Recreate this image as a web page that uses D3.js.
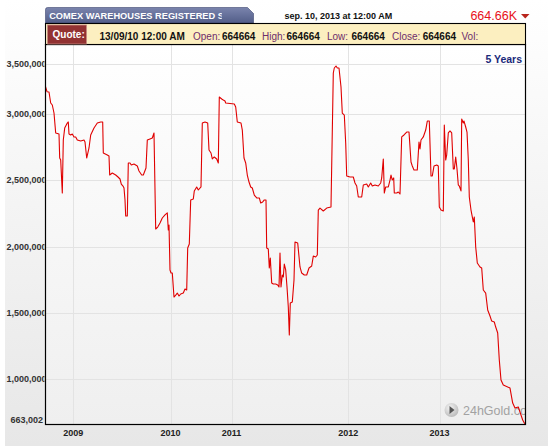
<!DOCTYPE html>
<html>
<head>
<meta charset="utf-8">
<script src="https://cdn.jsdelivr.net/npm/d3@7"></script>
<style>
  html, body { margin: 0; padding: 0; background: #ffffff; }
  svg { display: block; }
  text { font-family: "Liberation Sans", Arial, sans-serif; }
</style>
</head>
<body>
<svg id="chart" width="551" height="446"></svg>
<script>
// ---------------- data ----------------
// observation index along the series (the source chart is index based)
const obs = [0,2,4,5.7,7.3,9,10.7,14,14.7,15.7,17.3,18.3,19.7,22.3,23.3,24,25.7,27.3,29,30.7,32.3,35.7,39,40,41.7,44,45.7,49,52.3,55.7,57.7,58.3,62.3,64,64.7,67.3,70.7,73,75,76.3,78,79,80,80.7,82.3,83.3,85,86.3,89,92.3,
94,96.7,98.3,101,102.3,105,107.3,109,110.7,112.7,115,117.3,120,122.3,123.3,124,125,126,127.3,129,130.7,132.3,134,135.7,138.3,140,141.7,142.7,144.3,145.7,148.3,149.3,151.7,153.3,156,157.3,160,162.7,164,166,167.3,169.3,171.7,173.3,174.3,176.7,178.3,180,180.7,
189.3,190.7,192.3,196,197.3,199,200.7,202.3,204,205.7,207.3,209.3,211.7,214.3,215.7,217.7,219.3,221,221.7,223.3,224.3,225.3,226.7,228.3,230.7,232.7,234,235,236,237.3,238.3,239.3,240.7,242,243.3,244.3,245.3,247.3,249,250,252.7,255,256.7,259.3,261.7,264,266.7,268.3,270.7,272.3,273.3,275,278.3,281.7,286,
288.3,289.3,291,292.3,294,296,297.3,299.3,300.7,301.7,305,308.3,310,311.7,313.3,316.7,318.3,321.7,323.3,325.7,327.3,330,333.3,335.7,336.7,338.3,339.3,340.7,343.3,345,346,347.3,348.7,349.3,351.7,353.3,355,356.7,359,361.7,364,
366,367.3,369,372.3,374,375,376,378.3,380.7,382.3,384.3,386,387.3,389,391.7,393.3,394.3,396,398.3,399.3,400.7,401.7,403.3,405,406.7,408.3,409.3,410.7,412,413.3,414.3,416,416.7,418.3,419,420.7,422,423.3,424.3,426,427.3,428.3,429.3,430.7,432.3,435,436.7,438.3,440.7,442.7,445,446.7,449.3,450.7,452.7,454.3,456,458.3,465,467.7,470,473.3,475,477.7,479.3,480];

// registered stocks, thousands of ounces
const stockK = [3290,3223,3220,3110,3090,3010,2857,2849,2668,2653,2404,2804,2894,2932,2940,2849,2842,2849,2827,2827,2804,2796,2804,2789,2668,2744,2842,2894,2932,2940,2940,2706,2691,2683,2540,2555,2540,2525,2510,2472,2457,2442,2352,2231,2231,2631,2631,2616,2623,2608,
2570,2540,2540,2593,2804,2812,2819,2857,2133,2148,2178,2216,2239,2254,2125,2163,1824,1801,1801,1620,1635,1650,1628,1643,1650,1681,1673,1990,2020,2352,2359,2420,2450,2427,2450,2932,2940,2932,2729,2706,2661,2676,2661,2631,3170,3150,3140,3130,3110,
3100,3070,2940,2932,2879,2668,2631,2540,2487,2450,2442,2389,2367,2367,2329,2337,2352,2352,1990,1982,1839,1914,1726,1718,1718,1711,1696,1952,1696,1786,1771,1869,1824,1696,1545,1334,1575,1583,1749,2035,2027,1847,1801,1786,1786,1839,1854,1929,1922,1937,2276,2291,2269,2291,2299,
3410,3460,3480,3460,3460,3270,3008,2992,2781,2533,2525,2525,2480,2457,2374,2374,2465,2472,2450,2480,2457,2465,2457,2480,2518,2661,2404,2450,2450,2502,2540,2502,2518,2404,2404,2412,2397,2827,2842,2864,2864,
2638,2608,2578,2578,2789,2736,2804,2827,2879,2947,2947,2533,2533,2608,2616,2608,2299,2276,2269,2917,2653,2691,2857,2872,2857,2585,2585,2676,2585,2465,2457,2420,2962,2932,2947,2902,2864,2653,2374,2276,2224,2186,2224,1997,1877,1847,1839,1673,1650,1522,1477,1439,1432,1394,1349,1145,995,957,934,821,783,791,753,693,671,664.664];

// y ticks (thousands) and their labels
const yTickValues = [663.002, 1000, 1500, 2000, 2500, 3000, 3500];
const yTickLabels = ["663,002", "1,000,000", "1,500,000", "2,000,000", "2,500,000", "3,000,000", "3,500,000"];
// x ticks: observation index where each year begins
const xTickValues = [28.3, 125.6, 186.5, 303.3, 394.5];
const xTickLabels = ["2009", "2010", "2011", "2012", "2013"];

// header texts
const titleText = "COMEX WAREHOUSES REGISTERED S";
const dateText = "sep. 10, 2013 at 12:00 AM";
const lastText = "664.66K";
const quoteDate = "13/09/10 12:00 AM";
const quoteFields = [["Open:", "664664"], ["High:", "664664"], ["Low:", "664664"], ["Close:", "664664"], ["Vol:", ""]];
const periodText = "5 Years";

// ---------------- drawing ----------------
const svg = d3.select("#chart");
const L = 45, R = 525, T = 44, B = 424;

const x = d3.scaleLinear().domain([0, 480]).range([L, R]);
const y = d3.scaleLinear().domain([663.002, 3000, 3500]).range([B, 114, 64]);

const defs = svg.append("defs");
const gOuter = defs.append("linearGradient").attr("id", "gOuter").attr("x1", 0).attr("y1", 0).attr("x2", 0).attr("y2", 1);
gOuter.append("stop").attr("offset", "0%").attr("stop-color", "#ffffff");
gOuter.append("stop").attr("offset", "100%").attr("stop-color", "#e7e7e7");
const gPlot = defs.append("linearGradient").attr("id", "gPlot").attr("x1", 0).attr("y1", 0).attr("x2", 0).attr("y2", 1);
gPlot.append("stop").attr("offset", "0%").attr("stop-color", "#ffffff");
gPlot.append("stop").attr("offset", "100%").attr("stop-color", "#efefef");
const gTab = defs.append("linearGradient").attr("id", "gTab").attr("x1", 0).attr("y1", 0).attr("x2", 0).attr("y2", 1);
gTab.append("stop").attr("offset", "0%").attr("stop-color", "#7a84ad");
gTab.append("stop").attr("offset", "100%").attr("stop-color", "#525d88");
const gLogo = defs.append("radialGradient").attr("id", "gLogo").attr("cx", "40%").attr("cy", "35%").attr("r", "70%");
gLogo.append("stop").attr("offset", "0%").attr("stop-color", "#f4f4f4");
gLogo.append("stop").attr("offset", "100%").attr("stop-color", "#b8b8b8");
defs.append("clipPath").attr("id", "clipPlot").append("rect").attr("x", L).attr("y", T).attr("width", R - L).attr("height", B - T);
defs.append("clipPath").attr("id", "clipY").append("rect").attr("x", 0).attr("y", 40).attr("width", L - 0.5).attr("height", 400);
defs.append("clipPath").attr("id", "clipTitle").append("rect").attr("x", 46).attr("y", 6).attr("width", 175.8).attr("height", 18);

// outer background
svg.append("rect").attr("x", 5).attr("y", 0).attr("width", 543).attr("height", 446).attr("fill", "url(#gOuter)");

// plot background
svg.append("rect").attr("x", L).attr("y", T).attr("width", R - L).attr("height", B - T).attr("fill", "url(#gPlot)");

// grid
svg.append("g").selectAll("line").data(yTickValues.slice(1)).join("line")
  .attr("x1", L).attr("x2", R).attr("y1", d => Math.round(y(d)) + 0.5).attr("y2", d => Math.round(y(d)) + 0.5)
  .attr("stroke", "#e3e3e3").attr("stroke-width", 1);
svg.append("g").selectAll("line").data(xTickValues).join("line")
  .attr("x1", d => Math.round(x(d)) + 0.5).attr("x2", d => Math.round(x(d)) + 0.5).attr("y1", T).attr("y2", B)
  .attr("stroke", "#e3e3e3").attr("stroke-width", 1);

// watermark
const logo = svg.append("g").attr("clip-path", "url(#clipPlot)");
logo.append("circle").attr("cx", 451.5).attr("cy", 410).attr("r", 7).attr("fill", "url(#gLogo)");
logo.append("path").attr("d", "M449.5,406 L454.5,410 L449.5,414 Z").attr("fill", "#555");
logo.append("text").attr("x", 463).attr("y", 414.5).attr("font-size", 12.5).attr("fill", "#a2a2a2").text("24hGold.com");

// line
const pts = obs.map((o, i) => [o, stockK[i]]);
svg.append("path").datum(pts)
  .attr("clip-path", "url(#clipPlot)")
  .attr("fill", "none").attr("stroke", "#e00000").attr("stroke-width", 1.1).attr("stroke-linejoin", "round")
  .attr("d", d3.line().x(d => x(d[0])).y(d => y(d[1])));

// plot frame
svg.append("rect").attr("x", L + 0.5).attr("y", T + 0.5).attr("width", R - L).attr("height", B - T)
  .attr("fill", "none").attr("stroke", "#000").attr("stroke-width", 1.2);

// y labels
const yl = svg.append("g").attr("clip-path", "url(#clipY)");
yl.selectAll("text").data(yTickValues).join("text")
  .attr("x", (d, i) => i === 0 ? 43 : 46.5)
  .attr("y", (d, i) => i === 0 ? 420 : y(d))
  .attr("dy", "0.35em").attr("text-anchor", "end")
  .attr("font-size", 9).attr("font-weight", "bold").attr("fill", "#333")
  .text((d, i) => yTickLabels[i]);

// x labels
svg.append("g").selectAll("text").data(xTickValues).join("text")
  .attr("x", d => x(d)).attr("y", 435.5).attr("text-anchor", "middle")
  .attr("font-size", 9).attr("font-weight", "bold").attr("fill", "#222")
  .text((d, i) => xTickLabels[i]);

// "5 Years"
svg.append("text").attr("x", 522).attr("y", 62.5).attr("text-anchor", "end")
  .attr("font-size", 10.5).attr("font-weight", "bold").attr("fill", "#1b2a7a").text(periodText);

// title tab
svg.append("path").attr("d", "M45.5,23 L45.5,9.5 Q45.5,7.5 47.5,7.5 L247.5,7.5 L253.5,13.5 L253.5,23 Z")
  .attr("fill", "url(#gTab)").attr("stroke", "#3e4770").attr("stroke-width", 0.6);
svg.append("text").attr("clip-path", "url(#clipTitle)").attr("x", 49.2).attr("y", 18.8)
  .attr("font-size", 9.25).attr("font-weight", "bold").attr("fill", "#ffffff").text(titleText);

// date and last value
svg.append("text").attr("x", 284.5).attr("y", 18.7).attr("font-size", 9).attr("font-weight", "bold").attr("fill", "#111").text(dateText);
svg.append("text").attr("x", 517).attr("y", 20).attr("text-anchor", "end").attr("font-size", 12.5).attr("fill", "#e8101a").text(lastText);
svg.append("path").attr("d", "M521,14 L529.5,14 L525.25,18.5 Z").attr("fill", "#b8251c");

// quote bar
svg.append("rect").attr("x", 45.5).attr("y", 23.5).attr("width", 480).attr("height", 21)
  .attr("fill", "#fcefc0").attr("stroke", "#000").attr("stroke-width", 1.1);
svg.append("rect").attr("x", 47.5).attr("y", 25).attr("width", 39).attr("height", 19)
  .attr("fill", "#923232").attr("stroke", "#c68a80").attr("stroke-width", 0.8);
svg.append("text").attr("x", 52.5).attr("y", 37.5).attr("font-size", 10).attr("font-weight", "bold").attr("fill", "#fff").text("Quote:");
svg.append("text").attr("x", 99.5).attr("y", 39.5).attr("font-size", 10).attr("font-weight", "bold").attr("fill", "#111").text(quoteDate);
const qx = [[193, 222], [262, 286.5], [327, 351.5], [392, 422.7], [461.5, 0]];
quoteFields.forEach((f, i) => {
  svg.append("text").attr("x", qx[i][0]).attr("y", 39.5).attr("font-size", 10).attr("fill", "#6e2d6b").text(f[0]);
  if (f[1]) svg.append("text").attr("x", qx[i][1]).attr("y", 39.5).attr("font-size", 10).attr("font-weight", "bold").attr("fill", "#111").text(f[1]);
});
</script>
</body>
</html>
